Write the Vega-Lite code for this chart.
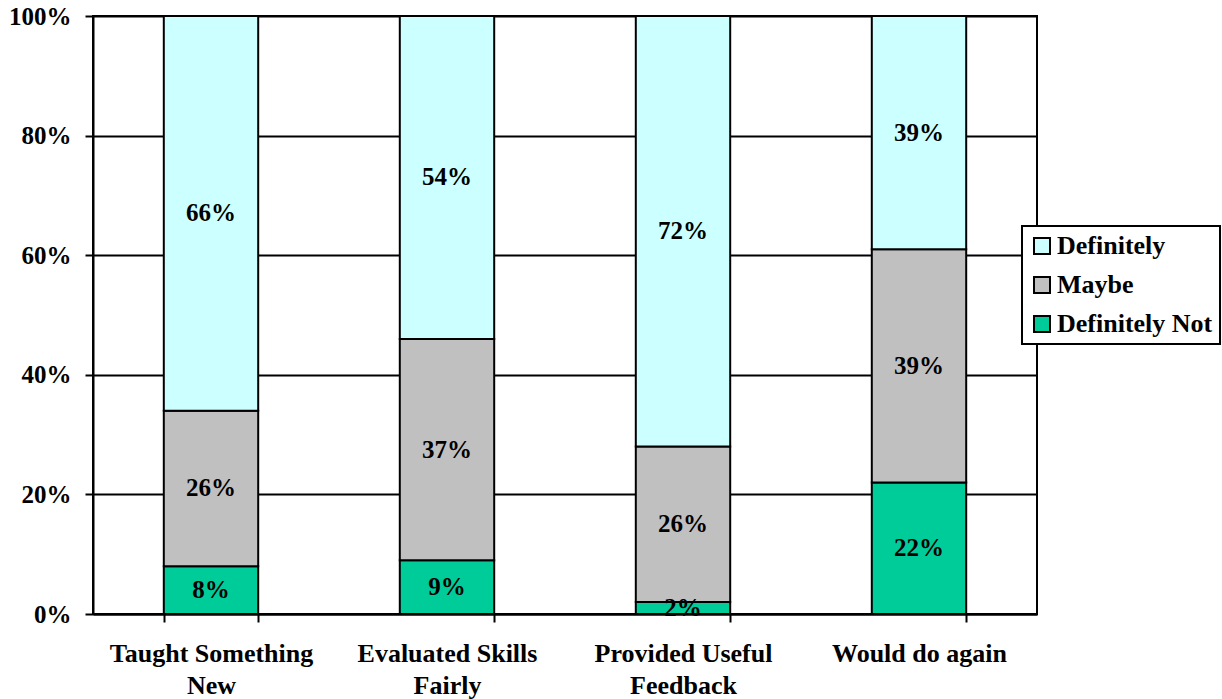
{
  "$schema": "https://vega.github.io/schema/vega-lite/v6.json",
  "autosize": "none",
  "width": 944,
  "height": 598,
  "padding": {"left": 93, "top": 16, "right": 185, "bottom": 85},
  "background": "white",
  "config": {
    "font": "Liberation Serif",
    "view": {"stroke": "black", "strokeWidth": 2},
    "axis": {
      "labelFont": "Liberation Serif",
      "labelFontWeight": "bold",
      "labelFontSize": 25,
      "labelColor": "black",
      "labelLimit": 400,
      "domainColor": "black",
      "domainWidth": 2,
      "tickColor": "black",
      "tickWidth": 2,
      "tickSize": 8,
      "gridColor": "black",
      "gridWidth": 2,
      "gridOpacity": 1
    }
  },
  "data": {
    "values": [
      {"q": "Taught Something New", "resp": "Definitely Not", "ord": 1, "value": 0.08},
      {"q": "Taught Something New", "resp": "Maybe", "ord": 2, "value": 0.26},
      {"q": "Taught Something New", "resp": "Definitely", "ord": 3, "value": 0.66},
      {"q": "Evaluated Skills Fairly", "resp": "Definitely Not", "ord": 1, "value": 0.09},
      {"q": "Evaluated Skills Fairly", "resp": "Maybe", "ord": 2, "value": 0.37},
      {"q": "Evaluated Skills Fairly", "resp": "Definitely", "ord": 3, "value": 0.54},
      {"q": "Provided Useful Feedback", "resp": "Definitely Not", "ord": 1, "value": 0.02},
      {"q": "Provided Useful Feedback", "resp": "Maybe", "ord": 2, "value": 0.26},
      {"q": "Provided Useful Feedback", "resp": "Definitely", "ord": 3, "value": 0.72},
      {"q": "Would do again", "resp": "Definitely Not", "ord": 1, "value": 0.22},
      {"q": "Would do again", "resp": "Maybe", "ord": 2, "value": 0.39},
      {"q": "Would do again", "resp": "Definitely", "ord": 3, "value": 0.39}
    ]
  },
  "encoding": {
    "x": {
      "field": "q",
      "type": "nominal",
      "sort": null,
      "scale": {"paddingInner": 0.6, "paddingOuter": 0.3},
      "axis": {
        "title": null,
        "labelAngle": 0,
        "tickBand": "extent",
        "labelPadding": 18,
        "labelFontSize": 26,
        "labelLineHeight": 32,
        "labelBaseline": "top",
        "labelLimit": 400,
        "labelExpr": "datum.value == 'Taught Something New' ? ['Taught Something', 'New'] : datum.value == 'Evaluated Skills Fairly' ? ['Evaluated Skills', 'Fairly'] : datum.value == 'Provided Useful Feedback' ? ['Provided Useful', 'Feedback'] : datum.value"
      }
    },
    "y": {
      "field": "value",
      "type": "quantitative",
      "stack": "zero",
      "scale": {"domain": [0, 1], "nice": false},
      "axis": {
        "title": null,
        "format": ".0%",
        "values": [0, 0.2, 0.4, 0.6, 0.8, 1],
        "labelPadding": 14
      }
    },
    "order": {"field": "ord", "type": "quantitative"}
  },
  "layer": [
    {
      "mark": {"type": "bar", "stroke": "black", "strokeWidth": 2},
      "encoding": {
        "color": {
          "field": "resp",
          "type": "nominal",
          "scale": {
            "domain": ["Definitely", "Maybe", "Definitely Not"],
            "range": ["#CCFFFF", "#C0C0C0", "#00CC99"]
          },
          "legend": {
            "title": null,
            "orient": "none",
            "legendX": 929,
            "legendY": 210,
            "symbolType": "square",
            "symbolSize": 256,
            "symbolStrokeColor": "black",
            "symbolStrokeWidth": 2,
            "symbolOpacity": 1,
            "labelFont": "Liberation Serif",
            "labelFontWeight": "bold",
            "labelFontSize": 26,
            "labelColor": "black",
            "labelOffset": 2,
            "labelLimit": 300,
            "rowPadding": 13,
            "padding": 7,
            "strokeColor": "black",
            "fillColor": "white",
            "encode": {"legend": {"update": {"strokeWidth": {"value": 2}}}}
          }
        }
      }
    },
    {
      "mark": {"type": "text", "font": "Liberation Serif", "fontWeight": "bold", "fontSize": 25, "color": "black", "baseline": "middle"},
      "encoding": {
        "y": {"field": "value", "type": "quantitative", "stack": "zero", "bandPosition": 0.5},
        "text": {"field": "value", "type": "quantitative", "format": ".0%"}
      }
    }
  ]
}
